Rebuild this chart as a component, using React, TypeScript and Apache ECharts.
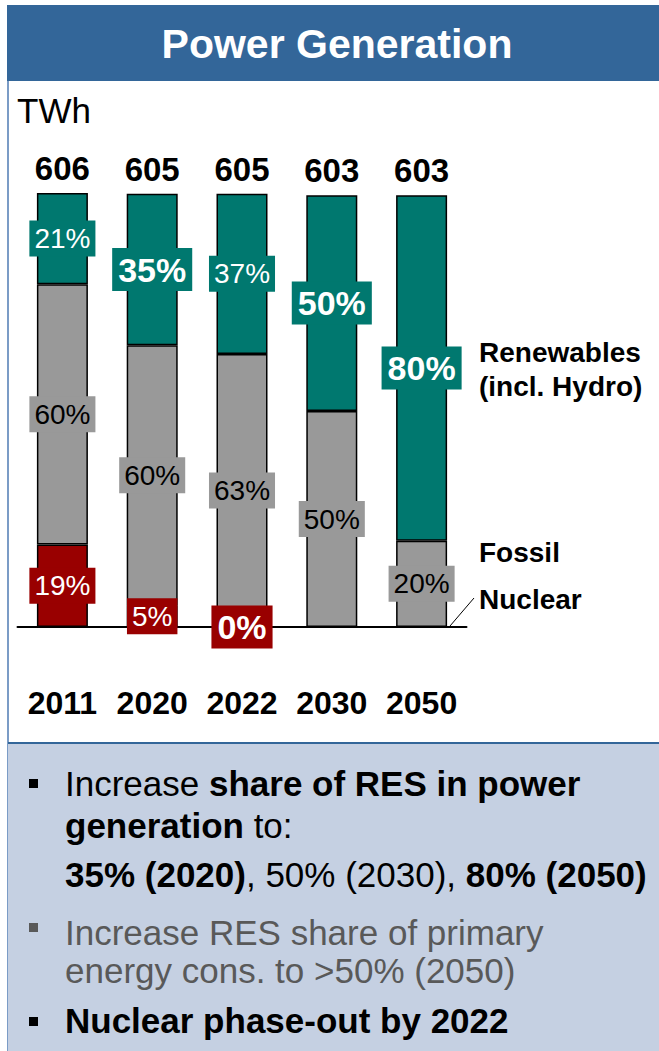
import React, { useEffect, useRef } from 'react';
import * as echarts from 'echarts';

// ---- data ----
const years = ['2011', '2020', '2022', '2030', '2050'];
const totalsTWh = [606, 605, 605, 603, 603];
const nuclearShare = [19, 5, 0, 0, 0];
const fossilShare = [60, 60, 63, 50, 20];
const renewableShare = [21, 35, 37, 50, 80];

const FONT = '"Liberation Sans", Arial, Helvetica, sans-serif';
const TEAL = '#00786F';
const GRAY = '#999999';
const RED = '#990000';
const BLUE = '#336699';
const PANEL = '#C5D0E2';

export default function App() {
  const ref = useRef<HTMLDivElement>(null);

  useEffect(() => {
    const chart = echarts.init(ref.current as HTMLDivElement, null, { renderer: 'svg' });

    const toTWh = (share: number[]) => share.map((s, i) => (s * totalsTWh[i]) / 100);
    const boldRenew = [false, true, false, true, true];
    const boldNuclear = [false, false, true, false, false];
    const showNuclear = [true, true, true, false, false];

    const lbl = (bg: string, fg: string, bold: boolean, text: string, show = true) => ({
      show,
      position: 'inside',
      formatter: text,
      backgroundColor: bg,
      color: fg,
      fontFamily: FONT,
      fontSize: bold ? 34 : 28,
      fontWeight: bold ? 'bold' : 'normal',
      lineHeight: bold ? 34 : 28,
      padding: bold ? [5, 6, 4, 6] : [4, 5, 4, 5],
    });

    const itemStyle = (c: string) => ({ color: c, borderColor: '#000', borderWidth: 1.5 });

    const nuclear = toTWh(nuclearShare);
    const fossil = toTWh(fossilShare);
    const renew = toTWh(renewableShare);

    const bulletText = (x: number, y: number, text: string, color = '#000') => ({
      type: 'text',
      x,
      y,
      silent: true,
      style: {
        text,
        fill: color,
        fontFamily: FONT,
        fontSize: 35,
        align: 'left',
        verticalAlign: 'middle',
        rich: {
          n: { fontFamily: FONT, fontSize: 35, fontWeight: 'normal', fill: color, color },
          b: { fontFamily: FONT, fontSize: 35, fontWeight: 'bold', fill: color, color },
        },
      },
    });

    const legendText = (x: number, y: number, text: string) => ({
      type: 'text',
      x,
      y,
      silent: true,
      style: {
        text,
        fill: '#000',
        fontFamily: FONT,
        fontSize: 28,
        fontWeight: 'bold',
        align: 'left',
        verticalAlign: 'middle',
      },
    });

    const square = (y: number, color: string) => ({
      type: 'rect',
      silent: true,
      shape: { x: 29, y, width: 9, height: 9 },
      style: { fill: color },
    });

    const option = {
      animation: false,
      grid: { left: 17.5, top: 193, width: 449, height: 434, containLabel: false },
      xAxis: {
        type: 'category',
        data: years,
        axisLine: { lineStyle: { color: '#000', width: 2 } },
        axisTick: { show: false },
        axisLabel: {
          interval: 0,
          fontFamily: FONT,
          fontSize: 32,
          fontWeight: 'bold',
          color: '#000',
          margin: 60,
        },
      },
      yAxis: { type: 'value', min: 0, max: 606, show: false },
      series: [
        {
          name: 'Nuclear',
          type: 'bar',
          stack: 'gen',
          barWidth: 51,
          itemStyle: itemStyle(RED),
          data: nuclear.map((v, i) => ({
            value: v,
            label: lbl(RED, '#fff', boldNuclear[i], `${nuclearShare[i]}%`, showNuclear[i]),
          })),
        },
        {
          name: 'Fossil',
          type: 'bar',
          stack: 'gen',
          barWidth: 51,
          itemStyle: itemStyle(GRAY),
          data: fossil.map((v, i) => ({
            value: v,
            label: lbl(GRAY, '#000', false, `${fossilShare[i]}%`),
          })),
        },
        {
          name: 'Renewables (incl. Hydro)',
          type: 'bar',
          stack: 'gen',
          barWidth: 51,
          itemStyle: itemStyle(TEAL),
          data: renew.map((v, i) => ({
            value: v,
            label: lbl(TEAL, '#fff', boldRenew[i], `${renewableShare[i]}%`),
          })),
        },
        {
          name: 'Total',
          type: 'bar',
          stack: 'gen',
          barWidth: 51,
          itemStyle: { color: 'rgba(0,0,0,0)', borderWidth: 0 },
          data: totalsTWh.map((t) => ({
            value: 0,
            label: {
              show: true,
              position: 'top',
              distance: 8,
              formatter: String(t),
              fontFamily: FONT,
              fontSize: 33,
              fontWeight: 'bold',
              color: '#000',
            },
          })),
        },
      ],
      graphic: [
        // title bar
        {
          type: 'rect',
          silent: true,
          shape: { x: 7, y: 5, width: 652, height: 76 },
          style: { fill: BLUE },
        },
        {
          type: 'text',
          x: 337,
          y: 44,
          silent: true,
          style: {
            text: 'Power Generation',
            fill: '#fff',
            fontFamily: FONT,
            fontSize: 41,
            fontWeight: 'bold',
            align: 'center',
            verticalAlign: 'middle',
          },
        },
        // left frame line
        {
          type: 'line',
          silent: true,
          shape: { x1: 8, y1: 81, x2: 8, y2: 1051 },
          style: { stroke: '#4F7BB3', lineWidth: 1.5 },
        },
        // unit
        {
          type: 'text',
          x: 17,
          y: 110,
          silent: true,
          style: {
            text: 'TWh',
            fill: '#000',
            fontFamily: FONT,
            fontSize: 35,
            align: 'left',
            verticalAlign: 'middle',
          },
        },
        // legend labels
        legendText(479, 352, 'Renewables'),
        legendText(479, 386, '(incl. Hydro)'),
        legendText(479, 552, 'Fossil'),
        legendText(479, 599, 'Nuclear'),
        {
          type: 'line',
          silent: true,
          shape: { x1: 450, y1: 626, x2: 474, y2: 598 },
          style: { stroke: '#000', lineWidth: 1 },
        },
        // bottom panel
        {
          type: 'rect',
          silent: true,
          shape: { x: 8, y: 743, width: 651, height: 308 },
          style: { fill: PANEL },
        },
        {
          type: 'line',
          silent: true,
          shape: { x1: 8, y1: 743, x2: 659, y2: 743 },
          style: { stroke: BLUE, lineWidth: 2 },
        },
        square(779, '#000'),
        bulletText(65, 783, '{n|Increase }{b|share of RES in power}'),
        bulletText(65, 825, '{b|generation}{n| to:}'),
        bulletText(65, 874, '{b|35% (2020)}{n|, 50% (2030), }{b|80% (2050)}'),
        square(923, '#595959'),
        bulletText(65, 932, '{n|Increase RES share of primary}', '#595959'),
        bulletText(65, 970, '{n|energy cons. to >50% (2050)}', '#595959'),
        square(1017, '#000'),
        bulletText(65, 1020, '{b|Nuclear phase-out by 2022}'),
      ],
    };

    chart.setOption(option as any);
    return () => chart.dispose();
  }, []);

  return (
    <div
      ref={ref}
      style={{ position: 'fixed', left: 0, top: 0, width: 659, height: 1051, background: '#fff' }}
    />
  );
}
